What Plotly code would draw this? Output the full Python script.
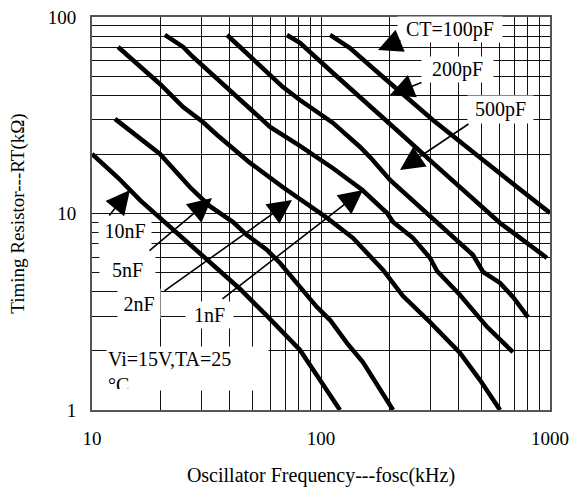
import plotly.graph_objects as go

# ---- data (fosc in kHz, RT in kOhm) ----
freq_100p = [109.5, 133.8, 186.5, 308, 510, 1000]
rt_100p = [81.0, 69.5, 49.5, 29.9, 18.7, 10.06]

freq_200p = [71.0, 80.9, 112.8, 158.8, 221.3, 308, 434, 605, 970]
rt_200p = [81.0, 73.8, 51.9, 36.5, 25.7, 18.1, 12.7, 8.95, 5.94]

freq_500p = [38.9, 49.0, 68.2, 80.9, 112.8, 148.1, 167.0, 200.1, 249.7, 299.2, 331, 461, 510, 605, 689, 801]
rt_500p = [81.0, 62.6, 44.0, 37.8, 28.9, 21.8, 18.9, 14.8, 11.7, 9.6, 8.74, 6.15, 5.04, 4.43, 3.76, 2.97]

freq_1n = [20.8, 25.0, 27.6, 38.9, 49.0, 59.9, 80.9, 112.8, 151.1, 194.2, 206.3, 252.2, 299.2, 321.1, 404.6, 530.8, 689]
rt_1n = [81.0, 70.4, 62.6, 43.5, 33.6, 27.6, 22.1, 17.0, 13.2, 10.06, 9.05, 7.5, 5.94, 5.10, 3.85, 2.65, 1.97]

freq_2n = [13.0, 19.8, 25.0, 30.5, 35.2, 49.0, 68.2, 80.9, 106.2, 138.0, 163.7, 186.5, 228.1, 299.2, 404.6, 494.7, 605]
rt_2n = [70.4, 45.6, 34.8, 29.2, 25.1, 18.1, 13.6, 11.9, 9.5, 7.5, 6.08, 5.16, 3.80, 2.80, 1.95, 1.42, 1.0]

freq_5n = [12.6, 19.8, 26.8, 32.7, 41.3, 47.5, 58.1, 66.2, 80.9, 96.0, 109.5, 129.9, 152.6, 206.3]
rt_5n = [30.3, 20.1, 13.6, 10.9, 9.05, 7.77, 6.52, 5.60, 4.23, 3.34, 2.87, 2.19, 1.75, 1.0]

freq_10n = [10.0, 13.0, 16.2, 19.8, 22.6, 26.8, 31.8, 44.3, 58.1, 80.9, 99.0, 121.0]
rt_10n = [20.1, 15.2, 11.7, 9.5, 8.24, 6.91, 5.80, 4.13, 3.01, 2.02, 1.42, 1.0]

series = [
    ("100pF", freq_100p, rt_100p),
    ("200pF", freq_200p, rt_200p),
    ("500pF", freq_500p, rt_500p),
    ("1nF", freq_1n, rt_1n),
    ("2nF", freq_2n, rt_2n),
    ("5nF", freq_5n, rt_5n),
    ("10nF", freq_10n, rt_10n),
]

x_ticks = [10, 100, 1000]
x_tick_labels = ["10", "100", "1000"]
y_ticks = [1, 10, 100]
y_tick_labels = ["1", "10", "100"]
x_minor = [20, 30, 40, 50, 60, 70, 80, 90, 200, 300, 400, 500, 600, 700, 800, 900]
y_minor = [2, 3, 4, 5, 6, 7, 8, 9, 20, 30, 40, 50, 60, 70, 80, 90]

FONT = "Liberation Serif, Times New Roman, serif"

fig = go.Figure()
for name, fx, ry in series:
    fig.add_trace(go.Scatter(x=fx, y=ry, mode="lines", name=name,
                             line=dict(color="black", width=4.5),
                             hoverinfo="skip"))

FIG_W, FIG_H = 573, 492
# plot area in page pixels: x 92..550, y 17..410
L, R, T, B = 92, 550, 17, 410
W, H = R - L, B - T

def px(xp):
    return (xp - L) / W

def py(yp):
    return (B - yp) / H

annotations = []
# text boxes: (text, left, top, right, bottom, align) in page pixels
boxes = [
    ("CT=100pF", 398, 17, 502, 42, "center"),
    ("200pF", 422, 57, 493, 82, "center"),
    ("500pF", 468, 96, 533, 123, "center"),
    ("10nF", 99, 216, 151, 245, "center"),
    ("5nF", 100, 256, 155, 284, "center"),
    ("2nF", 118, 289, 160, 318, "center"),
    ("1nF", 186, 302, 233, 328, "center"),
    ("Vi=15V,TA=25<br>°C", 107, 347, 268, 390, "left"),
]
for text, l, t, r, b, al in boxes:
    annotations.append(dict(
        text=text, xref="paper", yref="paper",
        x=px((l + r) / 2), y=py((t + b) / 2), xanchor="center", yanchor="middle",
        width=r - l - 2, height=b - t - 2, borderpad=1, align=al,
        valign="top" if al == "left" else "middle",
        bgcolor="white", showarrow=False,
        font=dict(family=FONT, size=20, color="black")))

# arrows: (tail_x, tail_y, tip_x, tip_y) in page pixels
arrows = [
    (402, 40, 378, 50),
    (423, 82, 390, 95),
    (470, 123, 400, 170),
    (108, 217, 130, 190),
    (148, 252, 212, 198),
    (163, 292, 292, 200),
    (221, 300, 363, 190),
]
for tx, ty, hx, hy in arrows:
    annotations.append(dict(
        text="", xref="paper", yref="paper", x=px(hx), y=py(hy),
        ax=tx - hx, ay=ty - hy, axref="pixel", ayref="pixel",
        showarrow=True, arrowhead=2, arrowsize=3.0, arrowwidth=1.6,
        arrowcolor="black"))

fig.update_layout(
    width=FIG_W, height=FIG_H,
    margin=dict(l=L, r=FIG_W - R, t=T, b=FIG_H - B, autoexpand=False),
    plot_bgcolor="white", paper_bgcolor="white",
    showlegend=False,
    font=dict(family=FONT, size=19, color="black"),
    annotations=annotations,
)

axis_common = dict(
    type="log", showgrid=True, gridcolor="#111", gridwidth=1,
    showline=True, linecolor="#555", linewidth=2, mirror=True,
    ticks="", zeroline=False, automargin=False, ticklabeloverflow="allow",
    tickfont=dict(family=FONT, size=19, color="black"),
)
fig.update_xaxes(**axis_common, range=[1, 3], tickvals=x_ticks, ticktext=x_tick_labels,
                 minor=dict(tickvals=x_minor, showgrid=True, gridcolor="#111", gridwidth=1, ticks=""),
                 ticklabelstandoff=10,
                 title=dict(text="Oscillator Frequency---fosc(kHz)", standoff=20,
                            font=dict(family=FONT, size=20, color="black")))
fig.update_yaxes(**axis_common, range=[0, 2], tickvals=y_ticks, ticktext=y_tick_labels,
                 minor=dict(tickvals=y_minor, showgrid=True, gridcolor="#111", gridwidth=1, ticks=""),
                 ticklabelstandoff=10,
                 title=dict(text="Timing Resistor---RT(kΩ)", standoff=18,
                            font=dict(family=FONT, size=19, color="black")))

fig.write_html("out.html",
               config={"displayModeBar": False, "staticPlot": True},
               post_script="document.body.style.margin='0px';document.body.style.overflow='hidden';")
